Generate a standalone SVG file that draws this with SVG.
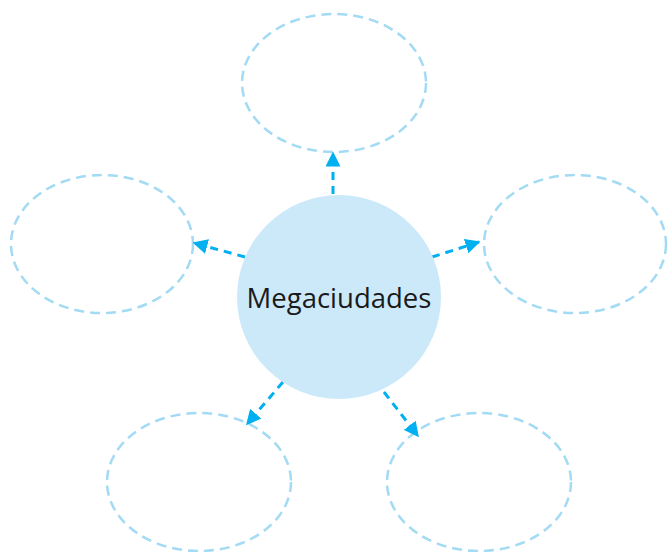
<svg xmlns="http://www.w3.org/2000/svg" width="670" height="552" viewBox="0 0 670 552">
<style>
.sat{fill:none;stroke:#A3DAF4;stroke-width:2.5;stroke-dasharray:10 6}
.con{fill:none;stroke:#00B0F0;stroke-width:3;stroke-dasharray:8 6}
.lbl{font-family:"Open Sans","Noto Sans",sans-serif;font-size:27.5px;fill:#1a1a1a}
</style>
<defs>
<marker id="ah" viewBox="0 0 10 10" refX="9" refY="5" markerWidth="5" markerHeight="5" markerUnits="strokeWidth" orient="auto">
<path d="M0,0 L10,5 L0,10 z" fill="#00B0F0"/>
</marker>
</defs>
<rect width="670" height="552" fill="#fff"/>
<g id="sat-top"><ellipse class="sat" cx="334" cy="83" rx="92" ry="69"/></g>
<g id="sat-left"><ellipse class="sat" cx="102" cy="244" rx="91" ry="69"/></g>
<g id="sat-right"><ellipse class="sat" cx="575" cy="244" rx="91" ry="69"/></g>
<g id="sat-bl"><ellipse class="sat" cx="199" cy="482" rx="92" ry="69"/></g>
<g id="sat-br"><ellipse class="sat" cx="479" cy="482" rx="92" ry="69"/></g>
<g id="connectors">
<line class="con" x1="333" y1="194" x2="333" y2="153" marker-end="url(#ah)"/>
<line class="con" x1="245" y1="257" x2="194" y2="243" marker-end="url(#ah)"/>
<line class="con" x1="432" y1="257" x2="479" y2="242" marker-end="url(#ah)"/>
<line class="con" x1="283" y1="382" x2="247" y2="424" marker-end="url(#ah)"/>
<line class="con" x1="384" y1="392" x2="418" y2="436" marker-end="url(#ah)"/>
</g>
<g id="center">
<circle cx="339" cy="297" r="102" fill="#CCE9FA"/>
<text class="lbl" x="339" y="308" text-anchor="middle">Megaciudades</text>
</g>
</svg>
